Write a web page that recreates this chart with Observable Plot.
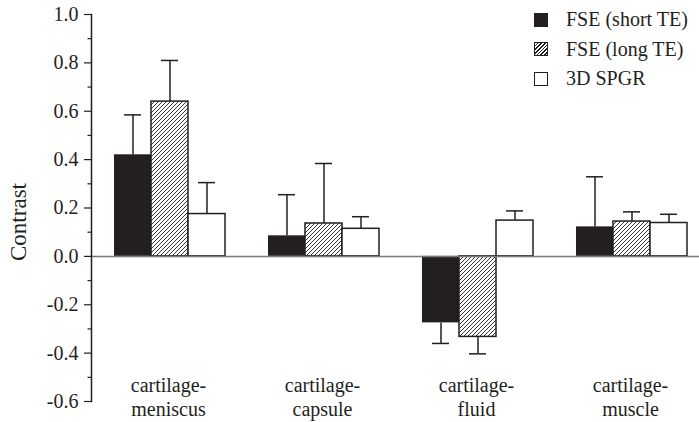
<!DOCTYPE html>
<html><head><meta charset="utf-8">
<script src="https://cdn.jsdelivr.net/npm/d3@7"></script>
<script src="https://cdn.jsdelivr.net/npm/@observablehq/plot@0.6"></script>
<style>
body{margin:0;background:#fff;}
#wrap{position:relative;width:699px;height:422px;font-family:"Liberation Serif","Tinos","Times New Roman","DejaVu Serif",serif;overflow:hidden;}
#legend{position:absolute;left:534px;top:5px;font-size:20px;color:#231f20;}
.row{display:flex;align-items:center;height:29.5px;white-space:nowrap;}
.sw{width:14px;height:14px;box-sizing:border-box;border:1.5px solid #231f20;margin-right:18px;}
#wrap svg text{font-family:"Liberation Serif","Tinos","Times New Roman","DejaVu Serif",serif;}
</style></head><body>
<div id="wrap"><div id="legend"></div></div>
<script>
const categories = ["cartilage-meniscus", "cartilage-capsule", "cartilage-fluid", "cartilage-muscle"];
const series = ["FSE (short TE)", "FSE (long TE)", "3D SPGR"];
const fseShort = [0.42, 0.085, -0.275, 0.122];
const fseShortSD = [0.165, 0.17, 0.085, 0.207];
const fseLong = [0.64, 0.136, -0.333, 0.144];
const fseLongSD = [0.17, 0.248, 0.07, 0.04];
const spgr = [0.175, 0.114, 0.148, 0.138];
const spgrSD = [0.13, 0.05, 0.04, 0.036];
const majorTicks = [-0.6, -0.4, -0.2, 0, 0.2, 0.4, 0.6, 0.8, 1.0];
const minorTicks = [-0.5, -0.3, -0.1, 0.1, 0.3, 0.5, 0.7, 0.9];
const yLabel = "Contrast";

const ink = "#231f20";
const serifStack = '"Liberation Serif", Tinos, "Times New Roman", "DejaVu Serif", serif';
const values = [fseShort, fseLong, spgr];
const sds = [fseShortSD, fseLongSD, spgrSD];
const rows = [];
series.forEach((s, si) => categories.forEach((c, ci) => {
  const v = values[si][ci], sd = sds[si][ci];
  rows.push({cat: c, series: s, value: v, end: v >= 0 ? v + sd : v - sd});
}));
const bySeries = s => rows.filter(d => d.series === s);

const plot = Plot.plot({
  width: 699, height: 422,
  marginLeft: 91, marginRight: -8, marginTop: 14, marginBottom: 21,
  style: {fontFamily: serifStack, fontSize: "20px", background: "white", color: ink},
  fx: {domain: categories, padding: 0},
  x: {domain: series, paddingInner: 0, paddingOuter: 0.581, align: 0.535, axis: null},
  y: {domain: [-0.6, 1.0]},
  marks: [
    Plot.barY(bySeries(series[0]), {fx: "cat", x: "series", y: "value", fill: ink}),
    Plot.barY(bySeries(series[1]), {fx: "cat", x: "series", y: "value", fill: "url(#hatch)", stroke: ink, strokeWidth: 1.5}),
    Plot.barY(bySeries(series[2]), {fx: "cat", x: "series", y: "value", fill: "white", stroke: ink, strokeWidth: 1.5}),
    Plot.ruleY([0], {stroke: "#77787b", strokeWidth: 1.5}),
    Plot.ruleX(rows, {fx: "cat", x: "series", y1: "value", y2: "end", stroke: ink, strokeWidth: 1.5}),
    Plot.tickY(rows, {fx: "cat", x: "series", y: "end", stroke: ink, strokeWidth: 1.5, insetLeft: 10, insetRight: 10}),
    Plot.frame({anchor: "left", facetAnchor: "left", stroke: ink, strokeWidth: 1.5}),
    Plot.axisY({ticks: majorTicks, tickSize: 7, tickPadding: 6, tickFormat: d => d.toFixed(1), fontSize: 20, color: ink, strokeWidth: 1.2, label: null}),
    Plot.axisY({ticks: minorTicks, tickSize: 3.5, tickFormat: () => "", color: ink, strokeWidth: 1.2, label: null}),
    Plot.text([yLabel], {fx: [categories[0]], text: d => d, frameAnchor: "left", textAnchor: "middle", lineAnchor: "middle", rotate: -90, dx: -73, dy: 14, fontSize: 23, fill: ink}),
    Plot.axisFx({anchor: "bottom", tickSize: 0, tickPadding: 3, dy: -30, fontSize: 20, lineHeight: 1.2, tickFormat: d => d.replace("-", "-\n"), label: null, color: ink})
  ]
});

const ns = "http://www.w3.org/2000/svg";
const defs = document.createElementNS(ns, "defs");
defs.innerHTML = '<pattern id="hatch" patternUnits="userSpaceOnUse" width="4" height="4">' +
  '<rect width="4" height="4" fill="white"/>' +
  '<path d="M-1,1 l2,-2 M0,4 l4,-4 M3,5 l2,-2" stroke="' + ink + '" stroke-width="0.9"/></pattern>';
plot.insertBefore(defs, plot.firstChild);
document.getElementById("wrap").prepend(plot);

const legend = document.getElementById("legend");
const swFill = ["background:" + ink, "background:repeating-linear-gradient(135deg,#fff 0,#fff 1.6px," + ink + " 1.6px," + ink + " 2.6px)", "background:#fff"];
series.forEach((s, i) => {
  const r = document.createElement("div");
  r.className = "row";
  r.innerHTML = '<div class="sw" style="' + swFill[i] + '"></div><span>' + s + '</span>';
  legend.appendChild(r);
});
</script>
</body></html>
